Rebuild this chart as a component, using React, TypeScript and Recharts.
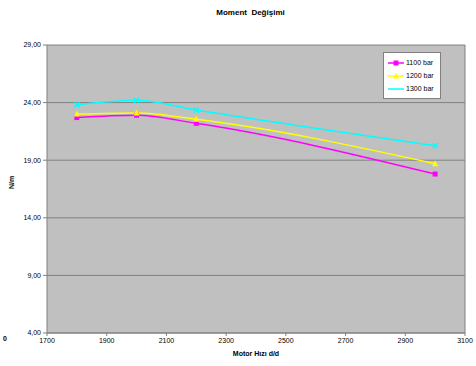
import { LineChart, Line, XAxis, YAxis, CartesianGrid, ReferenceLine, Label } from "recharts"

// motor devri (d/d)
const speeds = [1800, 2000, 2200, 3000]
// moment degerleri, basinca gore
const bar1100 = [22.7, 22.9, 22.2, 17.8]
const bar1200 = [23.0, 23.1, 22.55, 18.7]
const bar1300 = [23.8, 24.2, 23.35, 20.25]

const yTicks = [4, 9, 14, 19, 24, 29]
const xTicks = [1700, 1900, 2100, 2300, 2500, 2700, 2900, 3100]

const seriesNames = ["1100 bar", "1200 bar", "1300 bar"]
const colors = ["#ff00ff", "#ffff00", "#00ffff"]

const data = speeds.map((s, i) => ({
  rpm: s,
  b1100: bar1100[i],
  b1200: bar1200[i],
  b1300: bar1300[i],
}))

const font = "'Liberation Sans', Arial, sans-serif"

const Square = (props: any) => {
  const { cx, cy, fill } = props
  return <rect x={cx - 2.5} y={cy - 2.5} width={5} height={5} fill={fill} />
}
const Triangle = (props: any) => {
  const { cx, cy, fill } = props
  return <path d={`M${cx},${cy - 3.5} L${cx + 3},${cy + 2.5} L${cx - 3},${cy + 2.5} Z`} fill={fill} />
}
const Cross = (props: any) => {
  const { cx, cy, stroke } = props
  return <path d={`M${cx - 2.5},${cy - 2.5} L${cx + 2.5},${cy + 2.5} M${cx + 2.5},${cy - 2.5} L${cx - 2.5},${cy + 2.5}`} stroke={stroke} strokeWidth={1.5} />
}

// legend kutusu, grafigin ustune konuyor (Legend bilesenine yer ayirmasin diye)
function LegendBox() {
  return (
    <div style={{ position: "absolute", left: 383, top: 52, background: "#fff", border: "1px solid #808080", padding: "3px 4px", width: 48, fontFamily: font, fontSize: 7 }}>
      {seriesNames.map((n, i) => (
        <div key={n} style={{ display: "flex", alignItems: "center", height: 13 }}>
          <svg width={16} height={8} style={{ marginRight: 2 }}>
            <line x1={0} y1={4} x2={16} y2={4} stroke={colors[i]} strokeWidth={1.5} />
            {i === 0 && <rect x={5.5} y={1.5} width={5} height={5} fill={colors[i]} />}
            {i === 1 && <path d="M8,0.5 L11,6.5 L5,6.5 Z" fill={colors[i]} />}
          </svg>
          <span>{n}</span>
        </div>
      ))}
    </div>
  )
}

export default function App() {
  return (
    <div style={{ position: "absolute", left: 0, top: 0, width: 476, height: 366, background: "#fff" }}>
      <LineChart width={476} height={366} data={data} margin={{ top: 45, right: 11, bottom: 12, left: 0 }}>
        <CartesianGrid vertical={false} stroke="#808080" fill="#c0c0c0" />
        <XAxis
          dataKey="rpm"
          type="number"
          domain={[1700, 3100]}
          ticks={xTicks}
          interval={0}
          stroke="#808080"
          tickSize={3}
          height={21}
          tick={{ fill: "#000", fontSize: 7, fontFamily: font }}
        >
          <Label value="Motor Hızı d/d" position="insideBottom" offset={-2} style={{ fontSize: 7, fontWeight: "bold", fontFamily: font, fill: "#000" }} />
        </XAxis>
        <YAxis
          type="number"
          domain={[4, 29]}
          ticks={yTicks}
          interval={0}
          width={47}
          stroke="#808080"
          tickSize={4}
          tickFormatter={(v: number) => v.toFixed(2).replace(".", ",")}
          tick={{ fill: "#000", fontSize: 7, fontFamily: font }}
        >
          <Label value="N/m" angle={-90} position="insideLeft" offset={12} style={{ fontSize: 7, fontWeight: "bold", fontFamily: font, fill: "#000" }} />
        </YAxis>
        <ReferenceLine x={3100} stroke="#808080" />
        <Line type="monotone" dataKey="b1100" name={seriesNames[0]} stroke={colors[0]} strokeWidth={1.5} dot={<Square fill={colors[0]} />} isAnimationActive={false} />
        <Line type="monotone" dataKey="b1200" name={seriesNames[1]} stroke={colors[1]} strokeWidth={1.5} dot={<Triangle fill={colors[1]} />} isAnimationActive={false} />
        <Line type="monotone" dataKey="b1300" name={seriesNames[2]} stroke={colors[2]} strokeWidth={1.5} dot={<Cross stroke={colors[2]} />} isAnimationActive={false} />
      </LineChart>
      <div style={{ position: "absolute", left: 0, width: 476, top: 8, textAlign: "center", fontFamily: font, fontSize: 8, fontWeight: "bold", paddingLeft: 25, boxSizing: "border-box" }}>
        Moment&nbsp; Değişimi
      </div>
      <div style={{ position: "absolute", left: 3, top: 335, fontFamily: font, fontSize: 7, fontWeight: "bold" }}>0</div>
      <LegendBox />
    </div>
  )
}
